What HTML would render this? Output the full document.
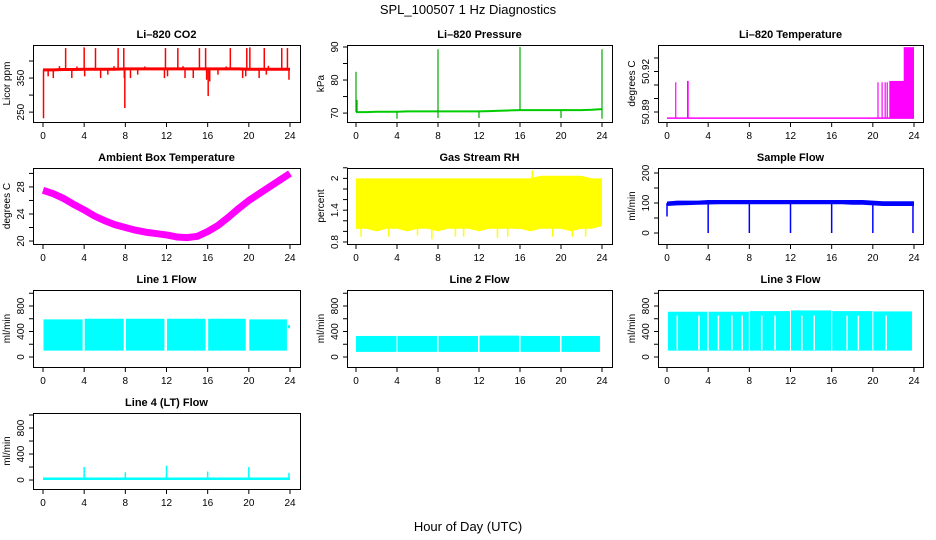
<!DOCTYPE html>
<html><head><meta charset="utf-8"><style>
html,body{margin:0;padding:0;background:#fff;}
svg{display:block;font-family:"Liberation Sans",Arial,sans-serif;}
</style></head><body>
<svg id="chart" width="936" height="540" viewBox="0 0 936 540" xmlns="http://www.w3.org/2000/svg">
<rect width="936" height="540" fill="#fff"/>
<text x="468" y="14" text-anchor="middle" font-size="13">SPL_100507  1 Hz Diagnostics</text>
<text x="468" y="531" text-anchor="middle" font-size="13">Hour of Day (UTC)</text>
</svg>
<script>
// ---------- data ----------
const hours = [0,1,2,3,4,5,6,7,8,9,10,11,12,13,14,15,16,17,18,19,20,21,22,23,24];
const xTicks = [0,4,8,12,16,20,24];
// CO2
const co2Base = [374,374,375,375,376,376,376,376,377,377,377,377,377,377,377,377,377,377,377,377,376,376,376,376,376];
const co2SpikeH = [2.2,4.0,5.1,7.3,7.85,11.9,13.1,15.2,15.8,18.2,19.8,20.1,21.5,23.2,23.75,0.05,7.95,16.05,0.5,1.0,2.8,4.05,5.6,6.3,7.9,8.5,9.2,11.8,12.1,13.8,14.6,15.9,16.2,17.0,19.4,19.7,21.0,21.7,23.9,1.6,3.3,6.9,9.9,13.6,17.8,21.9];
const co2SpikeV = [438,440,438,438,438,438,438,438,438,438,438,440,438,438,438,232,262,297,355,350,350,355,350,360,350,350,360,350,355,350,350,345,340,360,350,355,350,360,345,385,384,385,384,385,384,386];
// Pressure
const presBase = [70.3,70.3,70.4,70.4,70.4,70.5,70.5,70.5,70.5,70.5,70.5,70.5,70.5,70.6,70.7,70.8,70.9,70.9,70.9,70.9,70.9,70.9,70.9,71.0,71.2];
const presSpikeH = [0.0,0.1,8.0,16.0,24.0,4.0,8.0,12.0,20.0,24.0];
const presSpikeV = [82.5,74,89.3,90,89.3,68.3,68.5,68.5,68.5,68.3];
// Li-820 temperature
const tempBase = 50.8855;
const tempSpikeH = [0.85,2.0,2.05,20.5,20.9,21.2,21.4];
const tempSpikeV = [50.912,50.913,50.913,50.912,50.912,50.912,50.912];
const tempBlockStart = [21.6,23.0];
const tempBlockEnd = [23.9,24.0];
const tempBlockTop = [50.913,50.938];
// Ambient box temperature
const ambient = [27.5,27.0,26.3,25.4,24.6,23.7,23.0,22.4,22.0,21.6,21.3,21.1,20.9,20.6,20.5,20.7,21.4,22.3,23.5,24.8,26.0,27.0,28.0,29.0,30.0];
// Gas stream RH
const rhHi = [2.0,2.0,2.0,2.0,2.0,2.0,2.0,2.0,2.0,2.0,2.0,2.0,2.0,2.0,2.0,2.0,2.0,2.0,2.05,2.05,2.05,2.05,2.05,2.0,2.0];
const rhLo = [1.05,1.05,1.0,1.05,1.05,1.0,1.05,1.05,1.0,1.05,1.05,1.05,1.0,1.05,1.05,1.05,1.05,1.0,1.05,1.05,1.05,1.0,1.05,1.05,1.1];
const rhSpikeH = [0.5,3.2,6.0,7.4,9.7,10.5,13.8,14.8,17.2,19.2,21.1,22.4];
const rhSpikeV = [0.9,0.9,0.92,0.85,0.9,0.9,0.88,0.9,2.15,0.9,0.9,0.9];
// Sample flow
const sfHi = [105,108,108,108,110,110,110,110,110,110,110,110,110,110,110,110,110,110,110,110,108,106,106,106,106];
const sfLo = [90,92,93,94,95,96,96,96,96,96,96,96,96,96,96,96,96,96,94,94,92,90,90,90,90];
const sfDipH = [0.0,4.0,8.0,12.0,16.0,20.0,23.9];
const sfDipV = [55,0,0,0,0,0,0];
// Line flows (segments)
const l1Start = [0.05,4.05,8.05,12.05,16.05,20.05,23.8];
const l1End = [3.85,7.85,11.8,15.8,19.7,23.7,24.0];
const l1Hi = [590,600,600,600,600,590,500];
const l1Lo = [100,100,100,100,100,100,450];
const l2Start = [0.0,4.05,8.05,12.05,16.05,20.05];
const l2End = [3.95,7.9,11.9,15.9,19.9,23.8];
const l2Hi = [330,330,330,335,330,330];
const l2Lo = [80,80,80,80,80,80];
const l3Start = [0.1,4.05,8.05,12.05,16.05,20.05];
const l3End = [3.9,7.95,11.95,15.95,19.95,23.8];
const l3Hi = [710,710,720,730,720,715];
const l3Lo = [100,100,100,100,100,100];
const l3GapH = [1.0,3.1,5.0,6.3,7.3,9.2,10.5,13.1,14.3,17.5,18.6,21.3];
const l4Base = 20;
const l4SpikeH = [4.0,8.0,12.0,16.0,20.0,23.9];
const l4SpikeV = [200,120,220,130,200,110];

// ---------- layout ----------
const svg = document.getElementById('chart');
const NS = 'http://www.w3.org/2000/svg';
const cols = [{L:33,R:300,x0:43,x24:290},{L:347,R:612,x0:356,x24:602},{L:658,R:923,x0:667,x24:914}];
const rows = [{T:45,B:122},{T:168,B:244},{T:290,B:367},{T:413,B:489}];
function el(tag, attrs, parent){
  const e = document.createElementNS(NS, tag);
  for (const k in attrs) e.setAttribute(k, attrs[k]);
  (parent||svg).appendChild(e);
  return e;
}
function panel(ci, ri, name, title, ylab, ymin, ymax, ticks, labels){
  const c = cols[ci], r = rows[ri];
  const g = el('g', {});
  
  
  const px = h => c.x0 + h/24*(c.x24-c.x0);
  const py = v => r.T + (ymax - v)/(ymax - ymin)*(r.B - r.T);
  const t = el('text', {x:(c.L+c.R)/2, y:r.T-7, 'text-anchor':'middle', 'font-size':11, 'font-weight':'bold'}, g);
  t.textContent = title;
  
  
  const plot = el('g', {}, g);
  
  
  const ax = el('g', {stroke:'#000','stroke-width':1, fill:'none'}, g);
  
  
  const fr = el('rect', {x:c.L+0.5, y:r.T+0.5, width:c.R-c.L, height:r.B-r.T}, ax);
  
  
  xTicks.forEach(h => {
    el('line', {x1:px(h), x2:px(h), y1:r.B+0.5, y2:r.B+5}, ax);
    const tl = el('text', {x:px(h), y:r.B+17, 'text-anchor':'middle', 'font-size':10, fill:'#000', stroke:'none'}, g);
    tl.textContent = h;
    
    
  });
  ticks.forEach(v => {
    el('line', {x1:c.L-4, x2:c.L+0.5, y1:py(v), y2:py(v)}, ax);
  });
  labels.forEach(v => {
    const yl = el('text', {transform:`translate(${c.L-9},${py(v)}) rotate(-90)`, 'text-anchor':'middle', 'font-size':10, fill:'#000', stroke:'none'}, g);
    yl.textContent = v;
    
    
  });
  const yt = el('text', {transform:`translate(${c.L-23},${(r.T+r.B)/2}) rotate(-90)`, 'text-anchor':'middle', 'font-size':10}, g);
  yt.textContent = ylab;
  
  
  return {px, py, plot};
}
function vline(p, h, v1, v2, color, w){
  return el('line', {x1:p.px(h), x2:p.px(h), y1:p.py(v1), y2:p.py(v2), stroke:color, 'stroke-width':w||1.5}, p.plot);
}
function poly(p, hs, vs, color, w){
  const pts = hs.map((h,i)=>p.px(h)+','+p.py(vs[i])).join(' ');
  return el('polyline', {points:pts, fill:'none', stroke:color, 'stroke-width':w, 'stroke-linejoin':'round'}, p.plot);
}
function band(p, hs, hi, lo, color){
  const top = hs.map((h,i)=>p.px(h)+','+p.py(hi[i]));
  const bot = hs.map((h,i)=>p.px(h)+','+p.py(lo[i])).reverse();
  return el('polygon', {points:top.concat(bot).join(' '), fill:color}, p.plot);
}
function segs(p, s, e, hi, lo, color){
  s.forEach((st,i)=>{
    const x1 = p.px(st), x2 = p.px(e[i]);
    const rc = el('rect', {x:x1, y:p.py(hi[i]), width:Math.max(1,x2-x1), height:p.py(lo[i])-p.py(hi[i]), fill:color}, p.plot);
    
    
  });
}

// Row 1
let p = panel(0,0,'co2','Li\u2013820 CO2','Licor ppm',221,447,[250,300,350,400],[250,350]);
co2SpikeH.forEach((h,i)=>{ const b = co2Base[Math.min(24,Math.round(h))]; vline(p,h,b,co2SpikeV[i],'#ff0000',1.5); });
poly(p,hours,co2Base,'#ff0000',3);

p = panel(1,0,'pressure','Li\u2013820 Pressure','kPa',67.3,90.6,[70,75,80,85,90],[70,80,90]);
poly(p,hours,presBase,'#00cc00',2);
presSpikeH.forEach((h,i)=>{ const b = presBase[Math.min(24,Math.round(h))]; vline(p,h,b,presSpikeV[i],'#00aa00',1.2); });

p = panel(2,0,'li820-temp','Li\u2013820 Temperature','degrees C',50.8826,50.9396,[50.89,50.90,50.91,50.92,50.93],[50.89,50.92]);
poly(p,[0,24],[tempBase,tempBase],'#ff00ff',1.5);
tempSpikeH.forEach((h,i)=>{ vline(p,h,tempBase,tempSpikeV[i],'#ff00ff',1.2); });
tempBlockStart.forEach((s,i)=>{ const rc = el('rect',{x:p.px(s),y:p.py(tempBlockTop[i]),width:p.px(tempBlockEnd[i])-p.px(s),height:p.py(tempBase)-p.py(tempBlockTop[i]),fill:'#ff00ff'},p.plot);
  
   });

// Row 2
p = panel(0,1,'ambient-temp','Ambient Box Temperature','degrees C',19.56,30.8,[20,22,24,26,28,30],[20,24,28]);
poly(p,hours,ambient,'#ff00ff',7);

p = panel(1,1,'gas-rh','Gas Stream RH','percent',0.762,2.196,[0.8,1.0,1.2,1.4,1.6,1.8,2.0,2.2],[0.8,1.4,2.0]);
band(p,hours,rhHi,rhLo,'#ffff00');
rhSpikeH.forEach((h,i)=>{ vline(p,h,1.5,rhSpikeV[i],'#ffff00',1.5); });

p = panel(2,1,'sample-flow','Sample Flow','ml/min',-36.7,216.7,[0,50,100,150,200],[0,100,200]);
band(p,hours,sfHi,sfLo,'#0000ff');
sfDipH.forEach((h,i)=>{ vline(p,h,100,sfDipV[i],'#0000ff',1.5); });

// Row 3
p = panel(0,2,'line1-flow','Line 1 Flow','ml/min',-157,1051,[0,200,400,600,800,1000],[0,400,800]);
segs(p,l1Start,l1End,l1Hi,l1Lo,'#00ffff');
p = panel(1,2,'line2-flow','Line 2 Flow','ml/min',-157,1051,[0,200,400,600,800,1000],[0,400,800]);
segs(p,l2Start,l2End,l2Hi,l2Lo,'#00ffff');
p = panel(2,2,'line3-flow','Line 3 Flow','ml/min',-157,1051,[0,200,400,600,800,1000],[0,400,800]);
segs(p,l3Start,l3End,l3Hi,l3Lo,'#00ffff');
l3GapH.forEach(h=>{ vline(p,h,650,110,'#ffffff',1.5); });

// Row 4
p = panel(0,3,'line4-flow','Line 4 (LT) Flow','ml/min',-138,1031,[0,200,400,600,800,1000],[0,400,800]);
poly(p,[0,24],[l4Base,l4Base],'#00ffff',2.5);
l4SpikeH.forEach((h,i)=>{ vline(p,h,l4Base,l4SpikeV[i],'#00ffff',1.5); });
</script>
</body></html>
